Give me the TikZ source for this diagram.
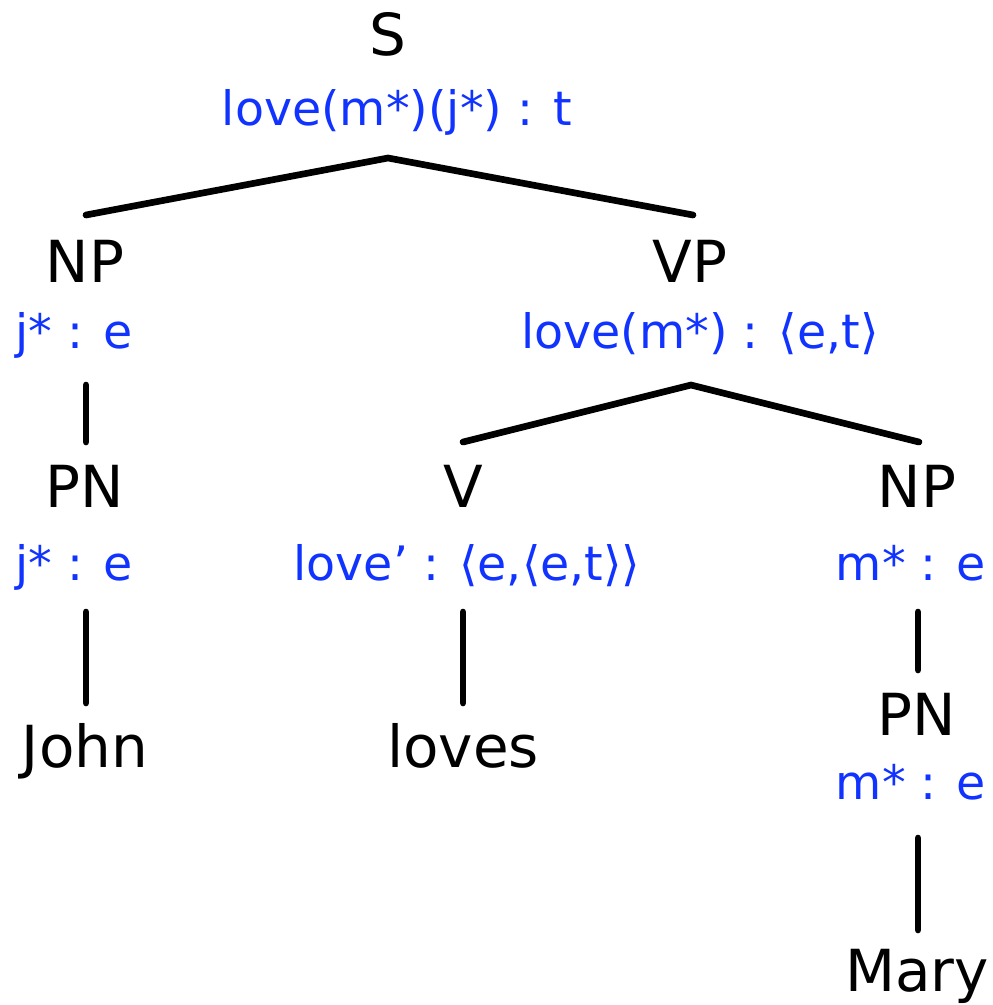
\documentclass[tikz,border=0pt]{standalone}
\usepackage{fontspec}
\setmainfont{DejaVu Sans}
\definecolor{semblue}{RGB}{17,51,255}
\tikzset{
    cat/.style={anchor=base, inner sep=0pt, font=\fontsize{33}{39}\selectfont},
    sem/.style={anchor=base, inner sep=0pt, text=semblue, font=\fontsize{27}{33}\selectfont},
    branch/.style={line width=3.8pt, line cap=round},
}
\begin{document}
\begin{tikzpicture}[x=0.02cm, y=-0.02cm]
  \useasboundingbox (0,0) rectangle (993,1005);
  % categories and their types
  \node[cat] (S) at (388,55) {S};
  \node[sem] (S-sem) at (397,125) {love(m*)(j*) : t};
  \node[cat] (NPj) at (85,282) {NP};
  \node[sem] (NPj-sem) at (74,348) {j* : e};
  \node[cat] (VP) at (690,282) {VP};
  \node[sem] (VP-sem) at (700,348) {love(m*) : ⟨e,t⟩};
  \node[cat] (PNj) at (85,507) {PN};
  \node[sem] (PNj-sem) at (74,580) {j* : e};
  \node[cat] (V) at (463,507) {V};
  \node[sem] (V-sem) at (467,580) {love’ : ⟨e,⟨e,t⟩⟩};
  \node[cat] (NPm) at (917,507) {NP};
  \node[sem] (NPm-sem) at (911,580) {m* : e};
  \node[cat] (PNm) at (917,735) {PN};
  \node[sem] (PNm-sem) at (911,799) {m* : e};
  % words
  \node[cat] (john) at (85,767) {John};
  \node[cat] (loves) at (463,767) {loves};
  \node[cat] (mary) at (917,991) {Mary};
  % branch ends
  \coordinate (S-dn) at (388,158);
  \coordinate (NPj-up) at (86,215);
  \coordinate (VP-up) at (693,215);
  \coordinate (NPj-dn) at (86,385);
  \coordinate (PNj-up) at (86,442);
  \coordinate (VP-dn) at (691,385);
  \coordinate (V-up) at (463,442);
  \coordinate (NPm-up) at (919,442);
  \coordinate (PNj-dn) at (86,612);
  \coordinate (john-up) at (86,703);
  \coordinate (V-dn) at (463,612);
  \coordinate (loves-up) at (463,703);
  \coordinate (NPm-dn) at (918,612);
  \coordinate (PNm-up) at (918,670);
  \coordinate (PNm-dn) at (918,838);
  \coordinate (mary-up) at (918,930);
  \draw[branch] (NPj-up) -- (S-dn) -- (VP-up);
  \draw[branch] (NPj-dn) -- (PNj-up);
  \draw[branch] (V-up) -- (VP-dn) -- (NPm-up);
  \draw[branch] (PNj-dn) -- (john-up);
  \draw[branch] (V-dn) -- (loves-up);
  \draw[branch] (NPm-dn) -- (PNm-up);
  \draw[branch] (PNm-dn) -- (mary-up);
\end{tikzpicture}
\end{document}
